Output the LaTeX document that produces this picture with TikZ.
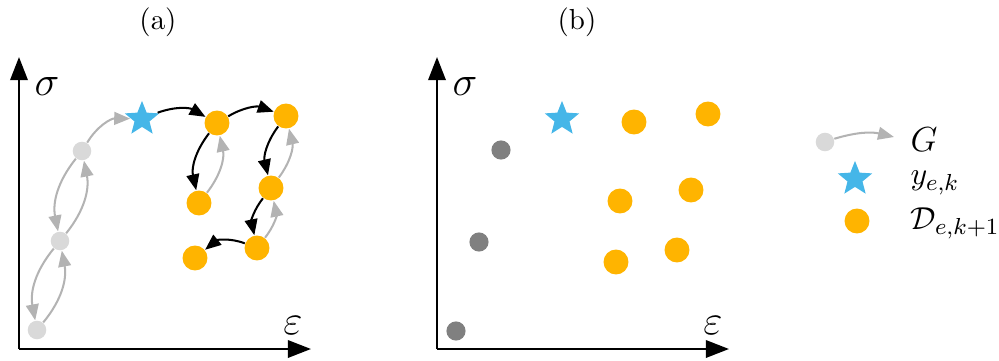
\documentclass[tikz,border=0pt]{standalone}
\usepackage{amsmath,amssymb}
\usetikzlibrary{arrows.meta,shapes.geometric}
\definecolor{Dot}{HTML}{FFB400}
\definecolor{StarBlue}{HTML}{45B6E8}
\definecolor{Ghost}{HTML}{D9D9D9}
\definecolor{GhostLine}{HTML}{B3B3B3}
\definecolor{Past}{HTML}{808080}
\tikzset{
  axis/.style={-{Triangle[length=8pt,width=6pt]},thick,draw=black},
  dotD/.style={circle,fill=Dot,inner sep=0pt,minimum size=8.6pt},
  dotG/.style={circle,fill=Ghost,inner sep=0pt,minimum size=6.4pt},
  dotP/.style={circle,fill=Past,inner sep=0pt,minimum size=6.6pt},
  starY/.style={star,star points=5,star point ratio=2.3,fill=StarBlue,inner sep=0pt,minimum size=12.5pt},
  stepArrow/.style={-{Triangle[length=5.5pt,width=4.4pt]},line width=0.7pt,draw=black},
  ghostArrow/.style={stepArrow,draw=GhostLine},
  legText/.style={anchor=west,inner sep=0pt,font=\fontsize{11}{13}\selectfont}
}

\begin{document}
\begin{tikzpicture}[x=0.345pt,y=-0.345pt]
  \useasboundingbox (0,0) rectangle (999,361);

  % panel (a)
  \node (lblA) at (158,22) {(a)};
  \coordinate (oA) at (19,349);
  \coordinate (yA) at (19,57);
  \coordinate (xA) at (311,349);
  \draw[axis] (oA) -- (yA);
  \draw[axis] (oA) -- (xA);
  \node[font=\Large] (sigA) at (47,87) {$\sigma$};
  \node[font=\Large] (epsA) at (293,326) {$\varepsilon$};

  \foreach \n/\x/\y in {g1/37/330,g2/60/241,g3/82/151}
    \node[dotG] (\n) at (\x,\y) {};
  \node[starY] (yA1) at (142,119) {};
  \foreach \n/\x/\y in {o1/217/123,o2/286/116,o3/199/203,o4/271/188,o5/257/248,o6/195/258}
    \node[dotD] (\n) at (\x,\y) {};

  \draw[ghostArrow] (g1) to[bend right=25] (g2);
  \draw[ghostArrow] (g2) to[bend right=25] (g1);
  \draw[ghostArrow] (g2) to[bend right=25] (g3);
  \draw[ghostArrow] (g3) to[bend right=25] (g2);
  \draw[ghostArrow] (g3) to[bend left=30] (yA1);
  \draw[stepArrow] (yA1) to[bend left=25] (o1);
  \draw[stepArrow] (o1) to[bend left=25] (o2);
  \draw[stepArrow] (o1) to[bend right=25] (o3);
  \draw[ghostArrow] (o3) to[bend right=25] (o1);
  \draw[stepArrow] (o2) to[bend right=25] (o4);
  \draw[ghostArrow] (o4) to[bend right=25] (o2);
  \draw[stepArrow] (o4) to[bend right=25] (o5);
  \draw[ghostArrow] (o5) to[bend right=25] (o4);
  \draw[stepArrow] (o5) to[bend right=30] (o6);

  % panel (b)
  \node (lblB) at (577,22) {(b)};
  \coordinate (oB) at (437,349);
  \coordinate (yB) at (437,57);
  \coordinate (xB) at (729,349);
  \draw[axis] (oB) -- (yB);
  \draw[axis] (oB) -- (xB);
  \node[font=\Large] (sigB) at (465,87) {$\sigma$};
  \node[font=\Large] (epsB) at (713,326) {$\varepsilon$};

  \foreach \n/\x/\y in {p1/456/331,p2/479/242,p3/501/150}
    \node[dotP] (\n) at (\x,\y) {};
  \node[starY] (yB1) at (562,119) {};
  \foreach \n/\x/\y in {d1/634/122,d2/708/114,d3/620/201,d4/691/190,d5/677/250,d6/616/262}
    \node[dotD] (\n) at (\x,\y) {};

  % legend
  \node[dotG] (legG) at (825,142) {};
  \coordinate (legGend) at (894,137);
  \draw[ghostArrow] (legG) to[bend left=15] (legGend);
  \node[starY] (legY) at (855,179) {};
  \node[dotD] (legD) at (857,221) {};
  \node[legText,font=\fontsize{13}{15}\selectfont] (txtG) at (910,140) {$G$};
  \node[legText] (txtY) at (910,183) {$y_{e,k}$};
  \node[legText] (txtD) at (910,223) {$\mathcal{D}_{e,k+1}$};
\end{tikzpicture}
\end{document}
